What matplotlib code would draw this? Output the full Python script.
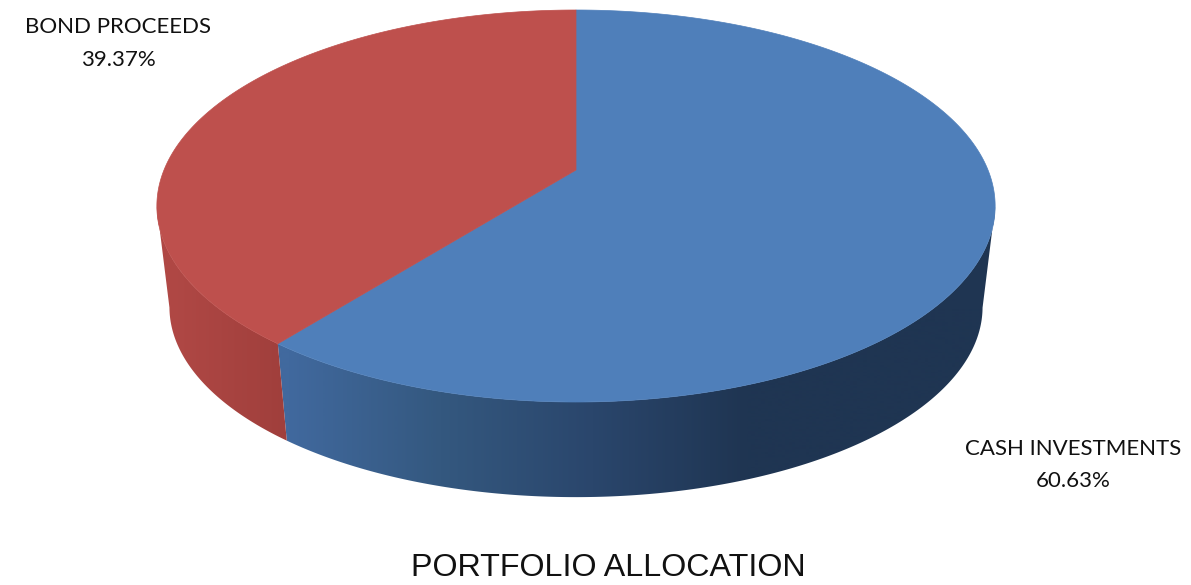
"""Portfolio allocation drawn as a perspective 3D pie."""

import matplotlib

matplotlib.use("Agg")
import matplotlib.pyplot as plt
import numpy as np
from matplotlib.colors import LinearSegmentedColormap
from matplotlib.patches import Polygon

categories = ["CASH INVESTMENTS", "BOND PROCEEDS"]
shares = [60.63, 39.37]
share_labels = ["60.63%", "39.37%"]
chart_title = "PORTFOLIO ALLOCATION"

TOP_COLORS = ["#4f7fba", "#be504d"]
SIDE_MAPS = [
    LinearSegmentedColormap.from_list("blue_side", ["#41699e", "#34587f", "#2a466c", "#1f3552", "#1f3552"]),
    LinearSegmentedColormap.from_list("red_side", ["#b04845", "#a03f3c"]),
]
SIDE_SPANS = [(287.0, 900.0), (170.0, 285.0)]

# geometry of the tilted disc, in image pixels
CX, CY = 576.0, 206.0
WIDTH, HEIGHT = 412.0, 196.0
APEX_SHIFT = 36.0
TILT = 0.1837
BASE_SCALE = 0.97
BASE_CY = 307.0


def project(angle, scale=1.0, cy=CY):
    """Map a clockwise angle from 12 o'clock on the disc to the image plane."""
    u, v = np.sin(angle), np.cos(angle)
    denom = 1.0 + TILT * v
    x = CX + scale * WIDTH * u / denom
    y = cy - scale * (HEIGHT * v + APEX_SHIFT) / denom
    return x, y


fig = plt.figure(figsize=(11.91, 5.85), dpi=100)
ax = fig.add_axes([0, 0, 1, 1])

edges = np.cumsum([0.0] + shares) / sum(shares) * 2.0 * np.pi

# side wall first, cut off at the widest point of the disc
xs = np.arange(140, 1011)
for i in range(len(shares)):
    angles = np.linspace(edges[i], edges[i + 1], 800)
    angles = angles[np.cos(angles) <= -APEX_SHIFT / HEIGHT]
    tx, ty = project(angles)
    bx, by = project(angles, BASE_SCALE, BASE_CY)
    wall = Polygon(np.c_[np.r_[tx, bx[::-1]], np.r_[ty, by[::-1]]], closed=True,
                   facecolor="none", edgecolor="none")
    ax.add_patch(wall)
    x0, x1 = SIDE_SPANS[i]
    pos = np.clip((xs - x0) / (x1 - x0), 0, 1)
    img = ax.imshow(pos[None, :], cmap=SIDE_MAPS[i], vmin=0, vmax=1, aspect="auto",
                    extent=(140, 1010, 520, 100), zorder=1)
    img.set_clip_path(wall)

for i in range(len(shares)):
    angles = np.linspace(edges[i], edges[i + 1], 800)
    tx, ty = project(angles)
    apex_y = CY - APEX_SHIFT
    ax.fill(np.r_[CX, tx], np.r_[apex_y, ty], color=TOP_COLORS[i], lw=0.5, zorder=2)

ax.set_xlim(0, 1191)
ax.set_ylim(585, 0)
ax.axis("off")

ax.text(1073, 465, f"{categories[0]}\n{share_labels[0]}", ha="center", va="center",
        family="Lato", fontsize=16, color="#111111", linespacing=1.77)
ax.text(118, 43.5, f"{categories[1]}\n{share_labels[1]}", ha="center", va="center",
        family="Lato", fontsize=16, color="#111111", linespacing=1.77)
ax.text(608.5, 568, chart_title, ha="center", va="center",
        family="Liberation Sans", fontsize=23.2, color="#111111")

fig.savefig("out.png", dpi=100, facecolor="white")
plt.close(fig)
